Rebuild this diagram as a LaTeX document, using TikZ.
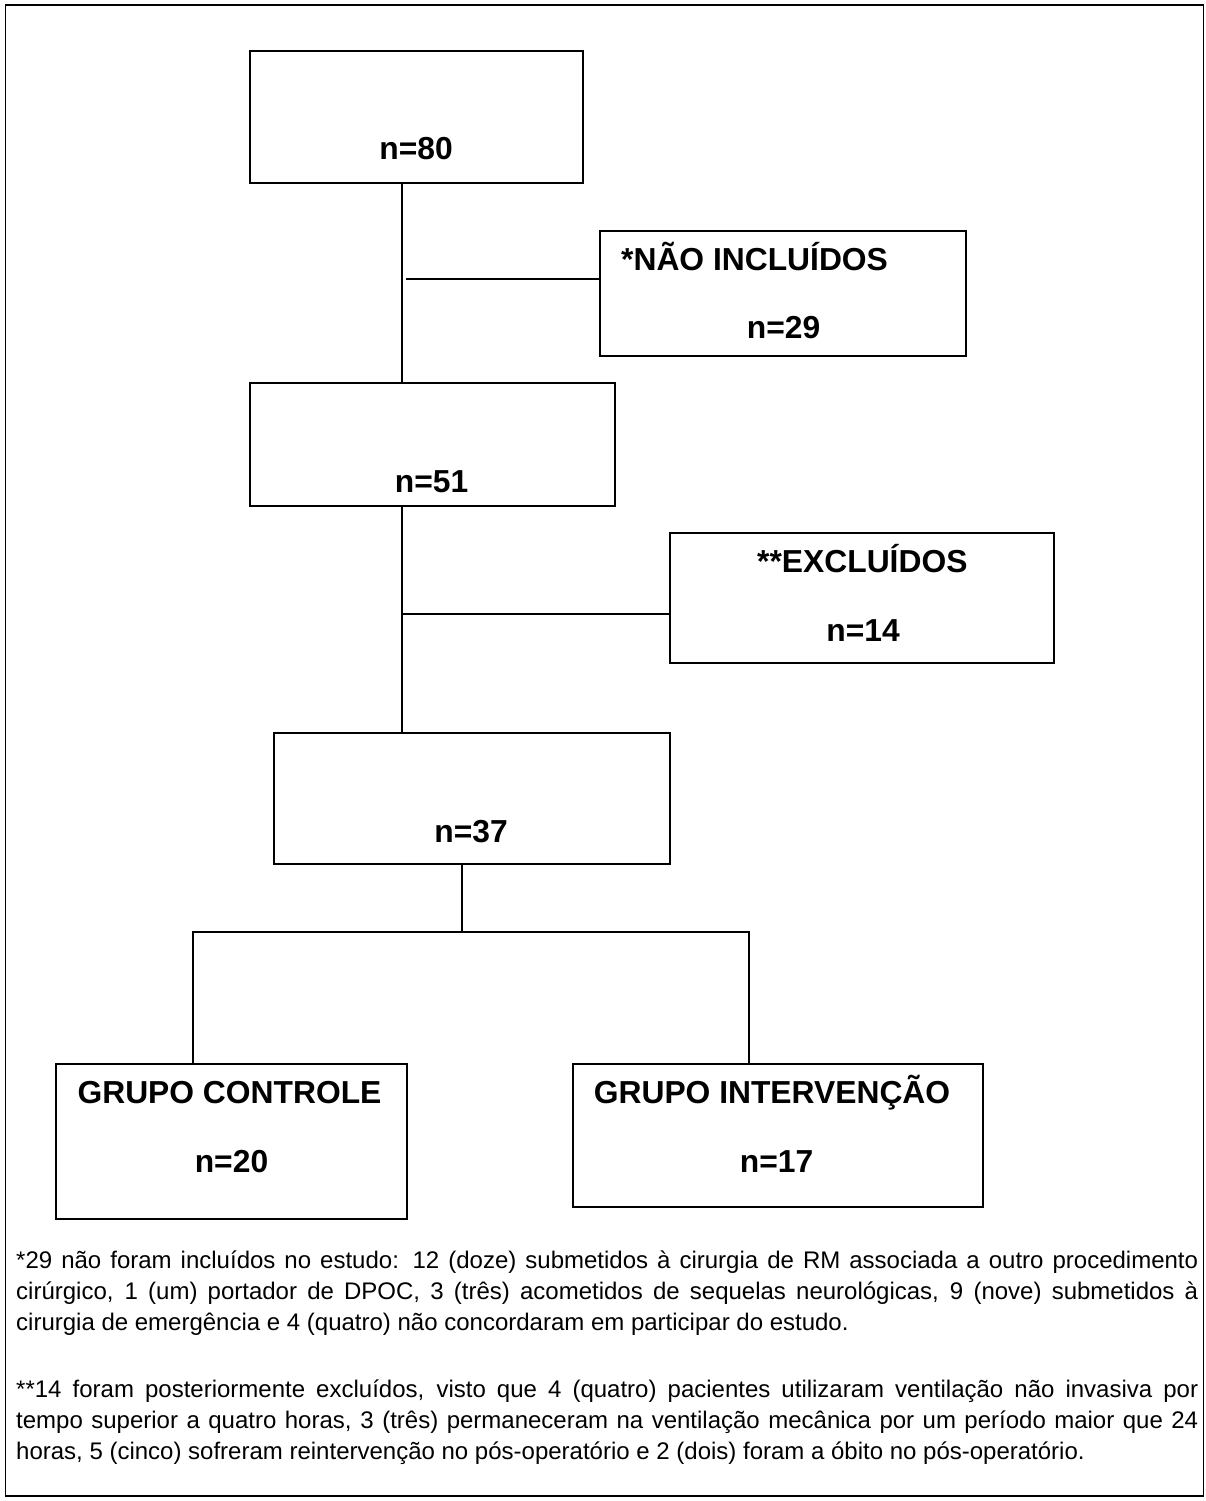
\documentclass[tikz,border=0pt]{standalone}
\usepackage{fontspec}
\setmainfont{Liberation Sans}

\begin{document}
\begin{tikzpicture}[x=1pt,y=-1pt,
  box/.style={draw,line width=1.7pt,inner sep=0pt},
  lbl/.style={font=\fontsize{31.8}{38}\selectfont\bfseries,inner sep=0pt,anchor=base},
  note/.style={font=\fontsize{24}{31}\selectfont,inner sep=0pt,anchor=base west,
    text width=1182pt,align=justify},
  link/.style={line width=1.7pt}]
  \useasboundingbox (0,0) rectangle (1206,1501);
  \draw[line width=1.8pt] (5.5,5) rectangle (1203.5,1496);
  % boxes
  \node[box,minimum width=333pt,minimum height=132pt] (start) at (416.5,117) {};
  \node[box,minimum width=366pt,minimum height=125pt] (naoinc) at (783,293.5) {};
  \node[box,minimum width=365pt,minimum height=123pt] (incl) at (432.5,444.5) {};
  \node[box,minimum width=384pt,minimum height=130pt] (excl) at (862,598) {};
  \node[box,minimum width=396pt,minimum height=131pt] (final) at (472,798.5) {};
  \node[box,minimum width=351pt,minimum height=155pt] (ctrl) at (231.5,1141.5) {};
  \node[box,minimum width=410pt,minimum height=143pt] (interv) at (778,1135.5) {};
  % labels
  \node[lbl] (n80) at (416,159) {n=80};
  \node[lbl,anchor=base west] (tnao) at (621,270) {*NÃO INCLUÍDOS};
  \node[lbl] (n29) at (783.5,338) {n=29};
  \node[lbl] (n51) at (431.5,492) {n=51};
  \node[lbl,anchor=base west] (texcl) at (757,572) {**EXCLUÍDOS};
  \node[lbl] (n14) at (863,641) {n=14};
  \node[lbl] (n37) at (471,842) {n=37};
  \node[lbl] (tctrl) at (229.5,1103) {GRUPO CONTROLE};
  \node[lbl] (n20) at (231.5,1172) {n=20};
  \node[lbl] (tint) at (772,1103) {GRUPO INTERVENÇÃO};
  \node[lbl] (n17) at (776.5,1172) {n=17};
  % connectors
  \coordinate (trunk) at (402,0);
  \coordinate (j1) at (406,279);
  \coordinate (j2) at (402,614);
  \coordinate (stem) at (462,932);
  \coordinate (bl) at (193,932);
  \coordinate (br) at (749,932);
  \draw[link] (start.south -| trunk) -- (incl.north -| trunk);
  \draw[link] (j1) -- (j1 -| naoinc.west);
  \draw[link] (incl.south -| trunk) -- (final.north -| trunk);
  \draw[link] (j2) -- (j2 -| excl.west);
  \draw[link] (final.south -| stem) -- (stem);
  \draw[link] (ctrl.north -| bl) -- (bl) -- (br) -- (interv.north -| br);
  % footnotes
  \node[note] (note1) at (16,1268) {\tolerance=10000\hyphenpenalty=10000
    *29 não foram incluídos no estudo: 12 (doze) submetidos à cirurgia de RM associada a outro procedimento\linebreak
    cirúrgico, 1 (um) portador de DPOC, 3 (três) acometidos de sequelas neurológicas, 9 (nove) submetidos à\linebreak
    cirurgia de emergência e 4 (quatro) não concordaram em participar do estudo.};
  \node[note] (note2) at (16,1397) {\tolerance=10000\hyphenpenalty=10000
    **14 foram posteriormente excluídos, visto que 4 (quatro) pacientes utilizaram ventilação não invasiva por\linebreak
    tempo superior a quatro horas, 3 (três) permaneceram na ventilação mecânica por um período maior que 24\linebreak
    horas, 5 (cinco) sofreram reintervenção no pós-operatório e 2 (dois) foram a óbito no pós-operatório.};
\end{tikzpicture}
\end{document}
